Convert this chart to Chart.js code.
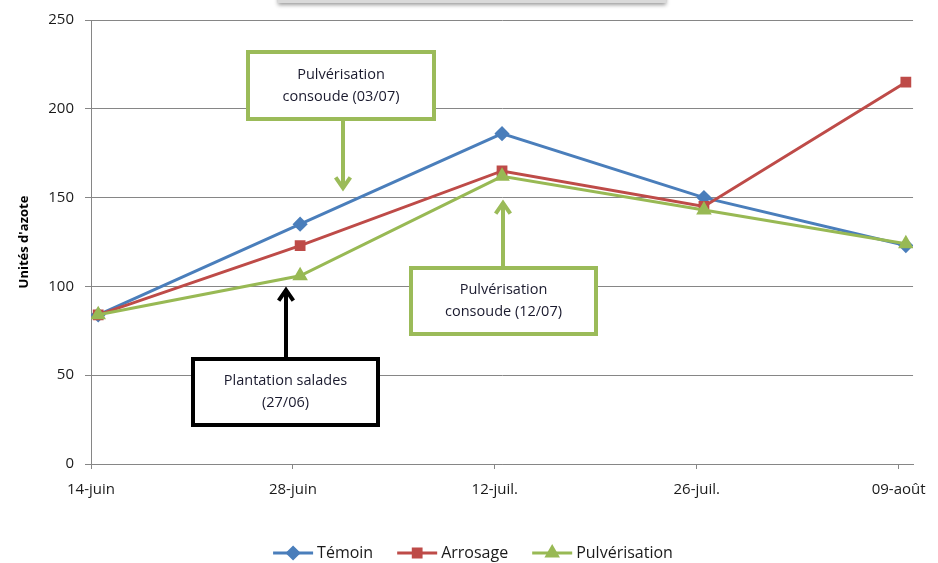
<!DOCTYPE html>
<html>
<head>
<meta charset="utf-8">
<script src="https://cdn.jsdelivr.net/npm/chart.js@4.4.0/dist/chart.umd.min.js"></script>
<style>
  html, body { margin: 0; padding: 0; background: #fff; }
</style>
</head>
<body>
<canvas id="lineChartCanvas" width="938" height="563"></canvas>
<script>
// dates of the measurements (days counted from 14-juin)
const dateLabels = ["14-juin", "28-juin", "12-juil.", "26-juil.", "09-août"];
const dayOffsets = [0, 14, 28, 42, 56];

// nitrogen units per series
const temoinValues = [84, 135, 186, 150, 123];
const arrosageValues = [84, 123, 165, 145, 215];
const pulverisationValues = [84, 106, 162, 143, 124];

const yTicks = [0, 50, 100, 150, 200, 250];

const FONT = "'Open Sans', 'DejaVu Sans', sans-serif";
const GRID = "#868686";

function toPoints(values) {
  // Excel date axis puts each point half a day after its tick
  return values.map((v, i) => ({ x: dayOffsets[i] + 0.5, y: v }));
}

// annotation boxes + arrows drawn on top of the chart
const notesPlugin = {
  id: "notes",
  afterDraw(chart) {
    const ctx = chart.ctx;
    ctx.save();

    // cropped title box at the very top
    ctx.shadowColor = "rgba(0,0,0,0.4)";
    ctx.shadowBlur = 4;
    ctx.shadowOffsetY = 2;
    ctx.fillStyle = "#d9d9d9";
    ctx.fillRect(278, -20, 388, 23);
    ctx.shadowColor = "transparent";

    const notes = [
      { lines: ["Pulvérisation", "consoude (03/07)"], box: [248, 52, 186, 67], color: "#9bbb59", arrow: [343, 119, 343, 188] },
      { lines: ["Pulvérisation", "consoude (12/07)"], box: [411, 268, 185, 66], color: "#9bbb59", arrow: [503, 268, 503, 203] },
      { lines: ["Plantation salades", "(27/06)"], box: [193, 359, 185, 66], color: "#000000", arrow: [286, 359, 286, 290] },
    ];

    notes.forEach((n) => {
      const [bx, by, bw, bh] = n.box;
      ctx.fillStyle = "#ffffff";
      ctx.fillRect(bx, by, bw, bh);
      ctx.lineWidth = 4;
      ctx.strokeStyle = n.color;
      ctx.strokeRect(bx, by, bw, bh);

      ctx.fillStyle = "#1a1a2e";
      ctx.font = "14.5px " + FONT;
      ctx.textAlign = "center";
      ctx.textBaseline = "middle";
      const cx = bx + bw / 2;
      const cy = by + bh / 2;
      ctx.fillText(n.lines[0], cx, cy - 11);
      ctx.fillText(n.lines[1], cx, cy + 11);

      // arrow shaft and open head
      const [x1, y1, x2, y2] = n.arrow;
      ctx.beginPath();
      ctx.moveTo(x1, y1);
      ctx.lineTo(x2, y2);
      const ang = Math.atan2(y2 - y1, x2 - x1);
      const len = 13;
      ctx.moveTo(x2 - len * Math.cos(ang - 0.6), y2 - len * Math.sin(ang - 0.6));
      ctx.lineTo(x2, y2);
      ctx.lineTo(x2 - len * Math.cos(ang + 0.6), y2 - len * Math.sin(ang + 0.6));
      ctx.lineWidth = 4;
      ctx.lineJoin = "miter";
      ctx.stroke();
    });

    // legend: line with marker, then label
    const sets = chart.data.datasets;
    ctx.font = "16px " + FONT;
    const lineLen = 40, gapText = 4, gapItem = 24;
    const widths = sets.map((d) => lineLen + gapText + ctx.measureText(d.label).width);
    const total = widths.reduce((a, b) => a + b, 0) + gapItem * (sets.length - 1);
    let x = 473 - total / 2;
    const y = 553;
    sets.forEach((d, i) => {
      ctx.strokeStyle = d.borderColor;
      ctx.lineWidth = 3;
      ctx.beginPath();
      ctx.moveTo(x, y);
      ctx.lineTo(x + lineLen, y);
      ctx.stroke();
      ctx.fillStyle = d.pointBackgroundColor;
      ctx.strokeStyle = d.pointBorderColor;
      Chart.helpers.drawPoint(ctx, {
        pointStyle: d.pointStyle,
        radius: d.pointRadius,
        rotation: 0,
        borderWidth: 1,
      }, x + lineLen / 2, y);
      ctx.fillStyle = "#1a1a1a";
      ctx.textAlign = "left";
      ctx.textBaseline = "middle";
      ctx.fillText(d.label, x + lineLen + gapText, y);
      x += widths[i] + gapItem;
    });

    ctx.restore();
  },
};

function series(label, values, color, style, radius, order) {
  return {
    label: label,
    data: toPoints(values),
    borderColor: color,
    backgroundColor: color,
    pointBackgroundColor: color,
    pointBorderColor: color,
    pointStyle: style,
    pointRadius: radius,
    pointHoverRadius: radius,
    borderWidth: 3,
    tension: 0,
    order: order,
  };
}

const ctx = document.getElementById("lineChartCanvas").getContext("2d");
const lineChart = new Chart(ctx, {
  type: "line",
  data: {
    datasets: [
      series("Témoin", temoinValues, "#4a7ebb", "rectRot", 5.5, 2),
      series("Arrosage", arrosageValues, "#be4b48", "rect", 5.5, 1),
      series("Pulvérisation", pulverisationValues, "#98b954", "triangle", 6, 0),
    ],
  },
  options: {
    responsive: false,
    animation: false,
    devicePixelRatio: 1,
    layout: { padding: { top: 19, right: 24, bottom: 0, left: 0 } },
    plugins: {
      legend: { display: false },
      tooltip: { enabled: false },
    },
    scales: {
      x: {
        type: "linear",
        min: dayOffsets[0],
        max: dayOffsets[dayOffsets.length - 1] + 1,
        afterFit: (scale) => { scale.height = 99; },
        afterBuildTicks: (scale) => {
          scale.ticks = dayOffsets.map((d) => ({ value: d }));
        },
        ticks: {
          callback: (value) => dateLabels[dayOffsets.indexOf(value)],
          font: { family: FONT, size: 15 },
          color: "#1a1a1a",
          padding: 12,
          maxRotation: 0,
          autoSkip: false,
        },
        grid: { drawOnChartArea: false, color: GRID, tickLength: 5 },
        border: { color: GRID, width: 1 },
      },
      y: {
        min: yTicks[0],
        max: yTicks[yTicks.length - 1],
        afterFit: (scale) => { scale.width = 91; },
        ticks: {
          stepSize: yTicks[1] - yTicks[0],
          font: { family: FONT, size: 15 },
          color: "#1a1a1a",
          padding: 11,
        },
        grid: { color: GRID, tickLength: 6 },
        border: { color: GRID, width: 1 },
        title: {
          display: true,
          text: "Unités d'azote",
          font: { family: FONT, size: 13, weight: "bold" },
          color: "#000",
          padding: { top: 16, bottom: 0 },
        },
      },
    },
  },
  plugins: [notesPlugin],
});
</script>
</body>
</html>
